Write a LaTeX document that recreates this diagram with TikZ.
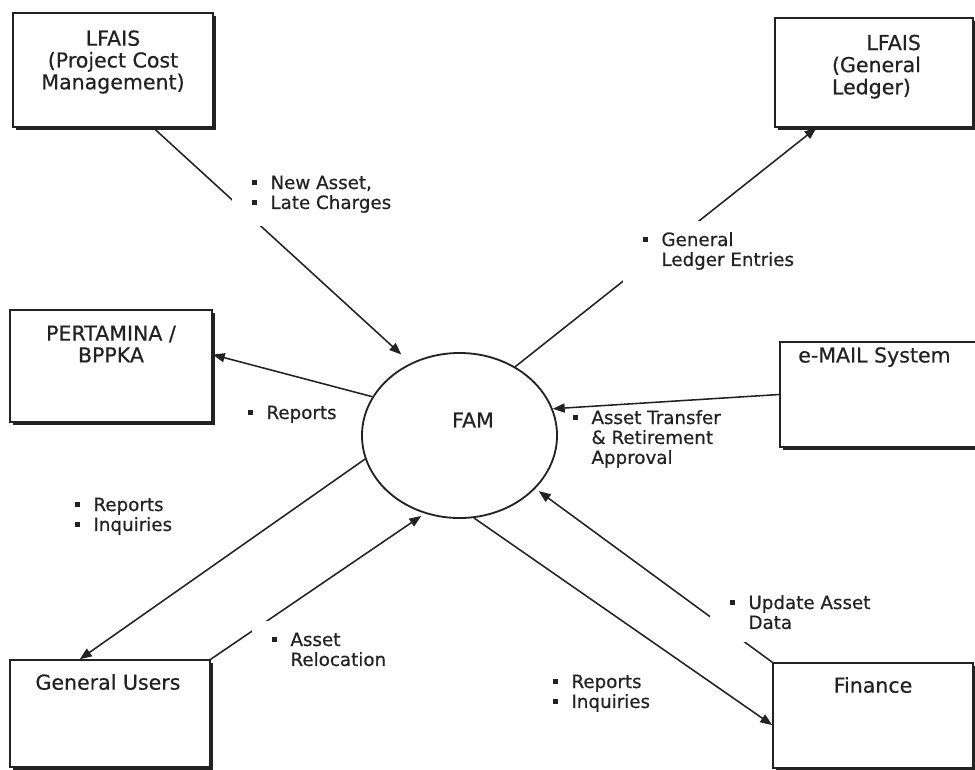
\documentclass[tikz,border=0pt]{standalone}
\usepackage{fontspec}
\setmainfont{DejaVu Sans}[FakeBold=0.5]
\usetikzlibrary{arrows.meta,shapes.geometric,shadows,fit,calc}
\definecolor{ink}{HTML}{222222}
% small square bullet used in the flow labels
\newcommand{\sqb}{\rule[0.22em]{0.28em}{0.28em}}
\begin{document}
\begin{tikzpicture}[x=0.025cm, y=-0.025cm,
  sysbox/.style={draw=ink, line width=1.1pt, fill=white, inner sep=0pt,
    drop shadow={shadow xshift=1.8pt, shadow yshift=-1.8pt, fill=ink, opacity=1}},
  boxtext/.style={text=ink, font=\fontsize{14.6}{15.5}\selectfont, align=center, inner sep=0pt},
  proc/.style={ellipse, draw=ink, line width=1.3pt, fill=white,
    minimum width=4.875cm, minimum height=4.125cm, inner sep=0pt},
  flow/.style={draw=ink, line width=1.1pt, -{Triangle[length=8.5pt,width=6.5pt]}},
  lbl/.style={text=ink, font=\fontsize{13}{14.2}\selectfont, anchor=text,
    fill=white, inner xsep=14pt, inner ysep=8pt},
  lblclear/.style={lbl, fill=none, inner sep=0pt},
]
\useasboundingbox (0,0) rectangle (975,770);
\fill[white] (0,0) rectangle (975,770);

% external entities
\node[sysbox, fit={(13,13)(213,127)}] (pcm) {};
\node[sysbox, fit={(775,18)(973,127)}] (gl) {};
\node[sysbox, fit={(10,310)(212,422)}] (pert) {};
\node[sysbox, fit={(780,342)(990,447)}] (email) {};
\node[sysbox, fit={(10,660)(210,767)}] (users) {};
\node[sysbox, fit={(773,663)(973,768)}] (fin) {};

% central process
\node[proc] (fam) at (459.5,435.5) {};

% entity names
\node[boxtext] (pcmt) at (113,62) {LFAIS\\(Project Cost\\Management)};
\node[boxtext, anchor=text] (glt) at (832,50)
  {\begin{tabular}[t]{@{}l@{}}\hfill LFAIS\\(General\\Ledger)\end{tabular}};
\node[boxtext] (pertt) at (111,344) {PERTAMINA /\\BPPKA};
\node[boxtext, anchor=west] (emailt) at (798,357) {e-MAIL System};
\node[boxtext] (userst) at (108,682) {General Users};
\node[boxtext] (fint) at (873,685) {Finance};
\node[boxtext] (famt) at (473,420) {FAM};

% data flows
\draw[flow, shorten >=9pt] ($(pcm.south west)!0.7!(pcm.south east)$) -- (fam.124);
\draw[flow] (fam.51) -- ($(gl.south west)!0.212!(gl.south east)$);
\draw[flow] (fam.156) -- ($(pert.north east)!0.4!(pert.south east)$);
\draw[flow] (email.west) -- (fam.16);
\draw[flow] (fam.194) -- ($(users.north west)!0.35!(users.north east)$);
\draw[flow, shorten >=3pt] (users.north east) -- (fam.246);
\draw[flow] (fam.280) -- ($(fin.north west)!0.59!(fin.south west)$);
\draw[flow, shorten >=3pt] (fin.north west) -- (fam.325);

% flow labels
\node[lbl] (l1) at (252,189)
  {\begin{tabular}[t]{@{}c@{\hspace{9.5pt}}l@{}}\sqb & New Asset,\\ \sqb & Late Charges\end{tabular}};
\node[lbl] (l2) at (643,246)
  {\begin{tabular}[t]{@{}c@{\hspace{9.5pt}}l@{}}\sqb & General\\ & Ledger Entries\end{tabular}};
\node[lbl, inner ysep=3pt] (l3) at (248,419)
  {\begin{tabular}[t]{@{}c@{\hspace{9.5pt}}l@{}}\sqb & Reports\end{tabular}};
\node[lblclear] (l4) at (573,424)
  {\begin{tabular}[t]{@{}c@{\hspace{9.5pt}}l@{}}\sqb & Asset Transfer\\ & \& Retirement\\ & Approval\end{tabular}};
\node[lbl] (l5) at (75,511)
  {\begin{tabular}[t]{@{}c@{\hspace{9.5pt}}l@{}}\sqb & Reports\\ \sqb & Inquiries\end{tabular}};
\node[lbl] (l6) at (272,646)
  {\begin{tabular}[t]{@{}c@{\hspace{9.5pt}}l@{}}\sqb & Asset\\ & Relocation\end{tabular}};
\node[lbl, inner ysep=5pt] (l7) at (730,609)
  {\begin{tabular}[t]{@{}c@{\hspace{9.5pt}}l@{}}\sqb & Update Asset\\ & Data\end{tabular}};
\node[lbl, inner ysep=5pt] (l8) at (553,688)
  {\begin{tabular}[t]{@{}c@{\hspace{9.5pt}}l@{}}\sqb & Reports\\ \sqb & Inquiries\end{tabular}};
\end{tikzpicture}
\end{document}
